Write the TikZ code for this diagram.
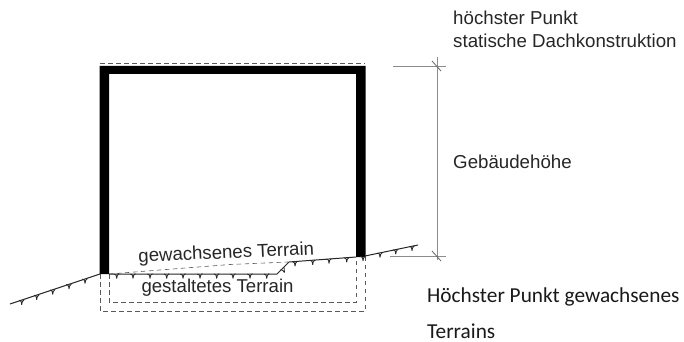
\documentclass[tikz,border=0pt]{standalone}
\usepackage{fontspec}
\setmainfont{Liberation Sans}
\newfontfamily\carl{Carlito}
\tikzset{
  wall/.style={line width=0pt,fill=black},
  ground/.style={line width=1pt,black!85},
  dashline/.style={line width=0.6pt,black!65,dash pattern=on 4.5pt off 3.5pt},
  dimline/.style={line width=0.8pt,black!45},
  dimtick/.style={line width=0.8pt,black!60},
  tick/.style={line width=0.8pt,black!85},
  arial/.style={inner sep=0pt,anchor=base west,text=black!85,font=\fontsize{18.7}{20}\selectfont},
  cali/.style={inner sep=0pt,anchor=base west,text=black!90,font=\carl\fontsize{21.3}{23}\selectfont},
  terr/.style={inner sep=0pt,anchor=base,text=black!85,font=\fontsize{18.6}{20}\selectfont},
}
\newcommand{\tk}[2]{\draw[tick] (#1-2.6,#2) .. controls (#1-0.6,#2+0.6) .. (#1,#2+4.6) (#1,#2+4.6) .. controls (#1+0.4,#2+1.4) .. (#1+2.4,#2-0.4);}
\begin{document}
\begin{tikzpicture}[x=1pt,y=-1pt]
\useasboundingbox (0,0) rectangle (684,342);
% dashed outlines
\draw[dashline] (100,63.5) -- (365,63.5);
\draw[dashline] (109,274) -- (230,264.5) -- (288,262);
\draw[dashline] (109,274) -- (109,302) -- (356,302) -- (356,257);
\draw[dashline] (100,274) -- (100,311) -- (365,311) -- (365,257);
% building
\fill[wall] (99.5,274) -- (99.5,66) -- (365.5,66) -- (365.5,257) -- (356,257) -- (356,74) -- (109,74) -- (109,274) -- cycle;
% terrain
\draw[ground] (10,304) -- (100,274);
\draw[ground] (109,274) -- (277,274) -- (289,262) -- (356,257);
\draw[ground] (365,256) -- (418,245);
\foreach \x/\y in {21.7/300.2,36.7/295.2,52.7/289.9,69/284.4,85/279,
  116.7/274,133/274,150/274,166.7/274,183/274,200/274,216.7/274,233/274,250/274,266.7/274,
  295/261.6,312.7/260.3,329/259,346.7/257.7,363/256.4,380/253,395.7/249.6,412/246.2}{\tk{\x}{\y}}
\draw[tick] (280,270) .. controls (282,269.6) .. (284.5,272.5) (284.5,272.5) .. controls (284,270) .. (284,267);
% dimension
\coordinate (dt) at (437,66);
\coordinate (db) at (437,256);
\draw[dimline] (393,66) -- (446,66);
\draw[dimline] (390,256) -- (446,256);
\draw[dimline] (437,57) -- (437,260);
\draw[dimtick] (432,61) -- (441,71);
\draw[dimtick] (432,251) -- (441,261);
% labels
\node[arial] (t1) at (453,25) {höchster Punkt};
\node[arial] (t2) at (453,48) {statische Dachkonstruktion};
\node[arial] (t3) at (453,168) {Gebäudehöhe};
\node[terr,rotate=2.5] (t4) at (226.5,258.5) {gewachsenes Terrain};
\node[terr] (t5) at (217.5,292) {gestaltetes Terrain};
\node[cali] (t6) at (427,302) {Höchster Punkt gewachsenes};
\node[cali] (t7) at (427,338) {Terrains};
\end{tikzpicture}
\end{document}
